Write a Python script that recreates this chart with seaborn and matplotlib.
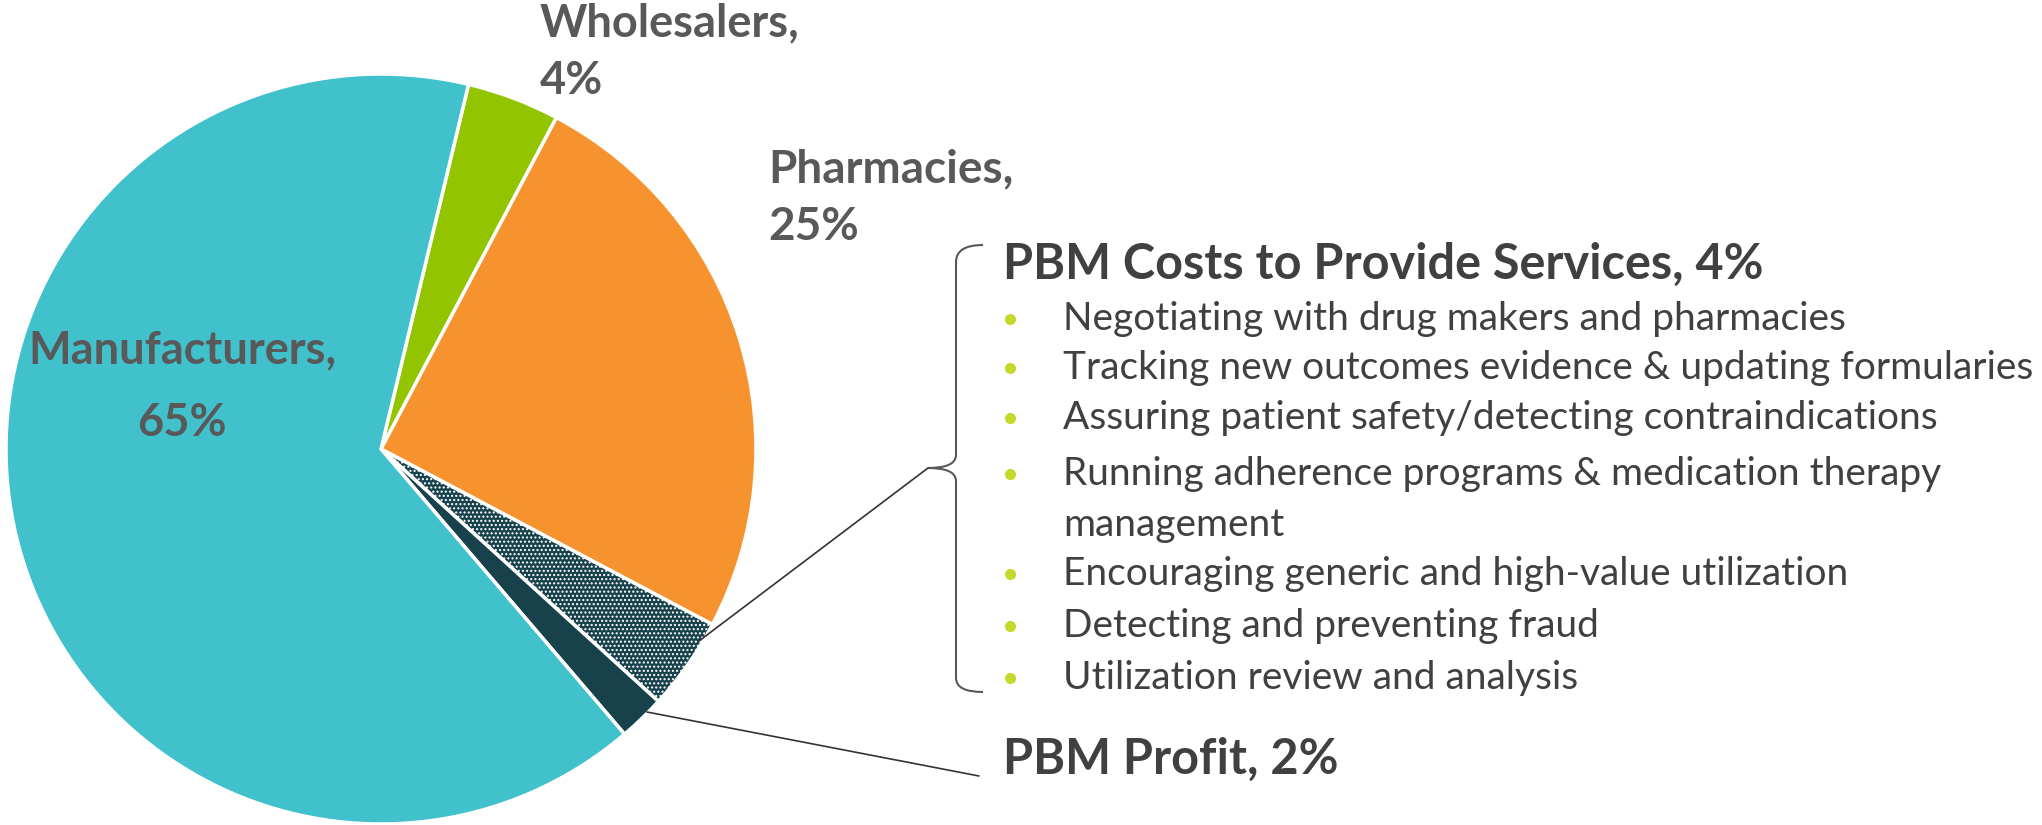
import matplotlib
matplotlib.use("Agg")
import matplotlib.pyplot as plt
import seaborn as sns
from matplotlib.path import Path
from matplotlib.patches import PathPatch

# Data
segments = ["Wholesalers", "Pharmacies", "PBM Costs to Provide Services", "PBM Profit", "Manufacturers"]
shares = [4, 25, 4, 2, 65]
colors = ["#92C500", "#F7932F", "#17414B", "#17414B", "#40C1CC"]
services = [
    "Negotiating with drug makers and pharmacies",
    "Tracking new outcomes evidence & updating formularies",
    "Assuring patient safety/detecting contraindications",
    "Running adherence programs & medication therapy\nmanagement",
    "Encouraging generic and high-value utilization",
    "Detecting and preventing fraud",
    "Utilization review and analysis",
]

W, H = 2042, 825
sns.set_theme(style="white")
plt.rcParams["font.family"] = ["Lato", "DejaVu Sans"]

fig = plt.figure(figsize=(W / 100, H / 100), dpi=100)
ax = fig.add_axes([0, 0, 1, 1])

cx, cy, r = 381, H - 449, 375
wedges, _ = ax.pie(shares, colors=colors, startangle=76.5, counterclock=False,
                   center=(cx, cy), radius=r, frame=True,
                   wedgeprops=dict(edgecolor="white", linewidth=2.5))
wedges[2].set_hatch("....")
ax.set_xlim(0, W)
ax.set_ylim(0, H)
ax.set_aspect("equal")
ax.axis("off")


def y(v):
    return H - v


label_color = "#595959"
text_color = "#404040"
ax.text(182, y(387), f"{segments[4]},\n{shares[4]}%", ha="center", va="center",
        fontsize=32.5, fontweight="bold", color=label_color, linespacing=1.9)
ax.text(540, y(52), f"{segments[0]},\n{shares[0]}%", ha="left", va="center",
        fontsize=32.5, fontweight="bold", color=label_color, linespacing=1.45)
ax.text(768, y(198), f"{segments[1]},\n{shares[1]}%", ha="left", va="center",
        fontsize=33, fontweight="bold", color=label_color, linespacing=1.45)

ax.text(1003, y(264), f"{segments[2]}, {shares[2]}%", ha="left", va="center",
        fontsize=35, fontweight="bold", color=text_color)
ax.text(1003, y(759), f"{segments[3]}, {shares[3]}%", ha="left", va="center",
        fontsize=35, fontweight="bold", color=text_color)

ys = [319, 368, 418, 474, 574, 626, 678]
for txt, yy in zip(services, ys):
    ax.plot(1010, y(yy), "o", color="#C5D92D", markersize=7)
    for i, line in enumerate(txt.split("\n")):
        ax.text(1063, y(yy + i * 51), line, ha="left", va="center",
                fontsize=28, color=text_color)

# bracket
verts = [(983, y(245)), (956, y(245)), (956, y(262)),
         (956, y(455)), (956, y(468)), (928, y(468)),
         (956, y(468)), (956, y(481)),
         (956, y(678)), (956, y(692)), (983, y(692))]
codes = [Path.MOVETO, Path.CURVE3, Path.CURVE3,
         Path.LINETO, Path.CURVE3, Path.CURVE3,
         Path.CURVE3, Path.CURVE3,
         Path.LINETO, Path.CURVE3, Path.CURVE3]
ax.add_patch(PathPatch(Path(verts, codes), fill=False, edgecolor="#595959", lw=1.5))

# leader lines
ax.plot([699, 928], [y(641), y(468)], color="#333333", lw=1.2)
ax.plot([647, 979], [y(712), y(776)], color="#333333", lw=1.2)

fig.savefig("out.png", dpi=100)
